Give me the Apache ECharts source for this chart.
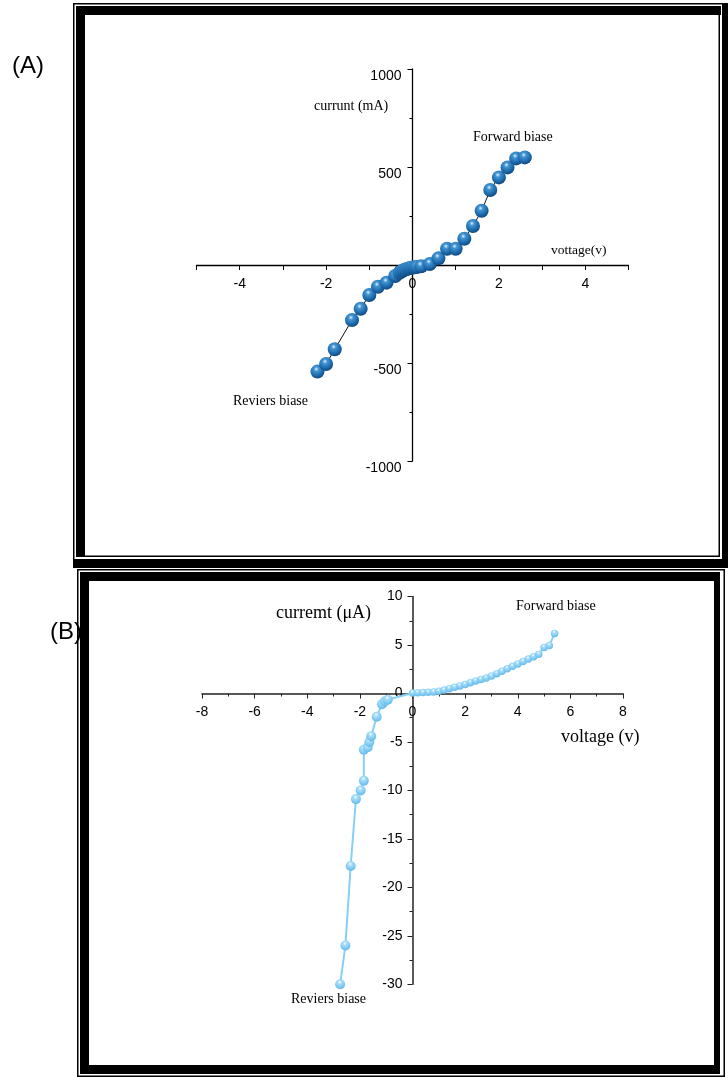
<!DOCTYPE html>
<html>
<head>
<meta charset="utf-8">
<script src="https://cdn.jsdelivr.net/npm/echarts@6/dist/echarts.min.js"></script>
<style>
html,body{margin:0;padding:0;background:#fff;}
#chart{width:728px;height:1077px;}
</style>
</head>
<body>
<div id="chart"></div>
<script>
// ---------- Panel A data (voltage V, current mA) ----------
const aVoltage = [-2.2,-2.0,-1.8,-1.4,-1.2,-1.0,-0.8,-0.6,-0.4,-0.3,-0.25,-0.2,-0.15,-0.1,-0.05,0,0.05,0.1,0.2,0.4,0.6,0.8,1.0,1.2,1.4,1.6,1.8,2.0,2.2,2.4,2.6];
const aCurrent = [-544,-505,-430,-281,-223,-153,-111,-90,-56,-40,-32,-26,-22,-18,-15,-13,-12,-10,-7,5,34,83,83,134,199,277,383,447,498,544,549];

// ---------- Panel B data (voltage V, current uA) ----------
const bVoltage = [-2.75,-2.55,-2.35,-2.15,-1.97,-1.85,-1.85,-1.7,-1.64,-1.57,-1.36,-1.16,-1.05,-0.94,
  0,0.2,0.4,0.6,0.8,1.0,1.2,1.4,1.6,1.8,2.0,2.2,2.4,2.6,2.8,3.0,3.2,3.4,3.6,3.8,4.0,4.2,4.4,4.6,4.8,5.0,5.2,5.4];
const bCurrent = [-30,-26,-17.8,-10.9,-10,-9,-5.8,-5.55,-5.0,-4.4,-2.4,-1.1,-0.8,-0.65,
  0.05,0.08,0.1,0.12,0.15,0.22,0.35,0.5,0.65,0.78,0.92,1.12,1.3,1.45,1.6,1.8,2.05,2.3,2.55,2.8,3.05,3.3,3.55,3.8,4.05,4.75,4.95,6.2];

// axis ranges / tick steps
const aXRange = [-5, 5], aXStep = 1;
const aYRange = [-1000, 1000], aYStep = 500;
const bXRange = [-8, 8], bXStep = 2;
const bYRange = [-30, 10], bYStep = 5;

const labels = {
  aY: 'currunt (mA)', aX: 'vottage(v)', aFwd: 'Forward biase', aRev: 'Reviers biase',
  bY: 'curremt (\u03bcA)', bX: 'voltage (v)', bFwd: 'Forward biase', bRev: 'Reviers biase',
  panelA: '(A)', panelB: '(B)'
};

const chart = echarts.init(document.getElementById('chart'), null, {renderer:'canvas'});

const sans = '"Liberation Sans", Arial, sans-serif';
const serif = '"Liberation Serif", "Times New Roman", serif';

// grid geometry
const gA = {left:196.5, top:69, width:432, height:392};
const gB = {left:202, top:596.6, width:421, height:387.6};
function zeroFrac(r){ return (0 - r[0]) / (r[1] - r[0]); }

function rect(x,y,w,h){ return {type:'rect', shape:{x:x,y:y,width:w,height:h}, style:{fill:'#000'}, z:100, silent:true}; }
function txt(x,y,t,font,align){ return {type:'text', x:x, y:y, z:50, silent:true,
  style:{text:t, font:font, fill:'#000', align:align||'left', verticalAlign:'middle'}}; }

const aBall = {type:'radial', x:0.42, y:0.32, r:0.72, colorStops:[
  {offset:0, color:'#e8f3fc'},{offset:0.22, color:'#4396d4'},{offset:0.65, color:'#1d6aac'},{offset:1, color:'#0d4276'}]};
const bBall = {type:'radial', x:0.45, y:0.3, r:0.72, colorStops:[
  {offset:0, color:'#ffffff'},{offset:0.25, color:'#a9def9'},{offset:0.7, color:'#7cc9f3'},{offset:1, color:'#5fb6e6'}]};

function axisCommon(color, width){
  return {
    axisLine:{show:true, onZero:false, lineStyle:{color:color, width:width}},
    axisTick:{show:true, inside:false, length:5, lineStyle:{color:color, width:1}},
    minorTick:{show:true, splitNumber:2, length:3, lineStyle:{color:color, width:1}},
    splitLine:{show:false}, minorSplitLine:{show:false}
  };
}
function plain(v){ return String(v); }

const option = {
  animation:false,
  backgroundColor:'#fff',
  grid:[
    Object.assign({outerBoundsMode:'none', containLabel:false}, gA),
    Object.assign({outerBoundsMode:'none', containLabel:false}, gB)
  ],
  xAxis:[
    Object.assign({type:'value', gridIndex:0, position:'bottom', min:aXRange[0], max:aXRange[1], interval:aXStep,
      offset: -gA.height * zeroFrac(aYRange),
      axisLabel:{margin:12, fontFamily:sans, fontSize:14, color:'#000',
        formatter:function(v){ return (v % 2 === 0) ? String(v) : ''; }}}, axisCommon('#000',1.3), {minorTick:{show:false}}),
    Object.assign({type:'value', gridIndex:1, position:'bottom', min:bXRange[0], max:bXRange[1], interval:bXStep,
      offset: -gB.height * zeroFrac(bYRange),
      axisLabel:{margin:12, fontFamily:sans, fontSize:14, color:'#000', formatter:plain}}, axisCommon('#222',1.5))
  ],
  yAxis:[
    Object.assign({type:'value', gridIndex:0, position:'left', min:aYRange[0], max:aYRange[1], interval:aYStep,
      offset: -gA.width * zeroFrac(aXRange),
      axisLabel:{margin:11, fontFamily:sans, fontSize:14, color:'#000', verticalAlign:'top', formatter:plain}}, axisCommon('#000',1.3)),
    Object.assign({type:'value', gridIndex:1, position:'left', min:bYRange[0], max:bYRange[1], interval:bYStep,
      offset: -gB.width * zeroFrac(bXRange),
      axisLabel:{margin:10, fontFamily:sans, fontSize:14, color:'#000', formatter:plain}}, axisCommon('#222',1.5))
  ],
  series:[
    {type:'line', xAxisIndex:0, yAxisIndex:0,
      data:aVoltage.map(function(v,i){return [v,aCurrent[i]];}),
      symbol:'circle', symbolSize:14, showAllSymbol:true,
      lineStyle:{color:'#111', width:1},
      itemStyle:{color:aBall, borderWidth:0}, z:3},
    {type:'line', xAxisIndex:1, yAxisIndex:1,
      data:bVoltage.map(function(v,i){return [v,bCurrent[i]];}),
      symbol:'circle', symbolSize:function(val){ return val[0] < 0 ? 10 : 7.5; }, showAllSymbol:true,
      lineStyle:{color:'#86d0f7', width:2},
      itemStyle:{color:bBall, borderWidth:0}, z:3}
  ],
  graphic:[
    txt(12, 66, labels.panelA, '24px ' + sans),
    txt(50, 632, labels.panelB, '24px ' + sans),
    txt(314, 106, labels.aY, '14px ' + serif),
    txt(551, 250, labels.aX, '13.5px ' + serif),
    txt(473, 137, labels.aFwd, '14px ' + serif),
    txt(233, 401, labels.aRev, '14px ' + serif),
    txt(276, 613, labels.bY, '18px ' + serif),
    txt(561, 737, labels.bX, '18px ' + serif),
    txt(516, 606, labels.bFwd, '14px ' + serif),
    txt(291, 999, labels.bRev, '14px ' + serif),
    // frame A
    rect(73, 3, 1.5, 565),
    rect(73, 3, 655, 1.5),
    rect(76, 6, 9, 551),
    rect(76, 6, 645, 9),
    rect(718.5, 6, 1.5, 551),
    rect(76, 555.5, 644, 1.5),
    rect(722, 3, 6, 565),
    rect(73, 559, 655, 9),
    // frame B
    rect(77, 569, 648, 1.5),
    rect(77, 569, 1.5, 508),
    rect(723.5, 569, 1.5, 508),
    rect(77, 1075.5, 648, 1.5),
    rect(80, 572, 640, 9),
    rect(80, 572, 9, 502),
    rect(714, 572, 6, 502),
    rect(80, 1065, 640, 9)
  ]
};
chart.setOption(option);
</script>
</body>
</html>
